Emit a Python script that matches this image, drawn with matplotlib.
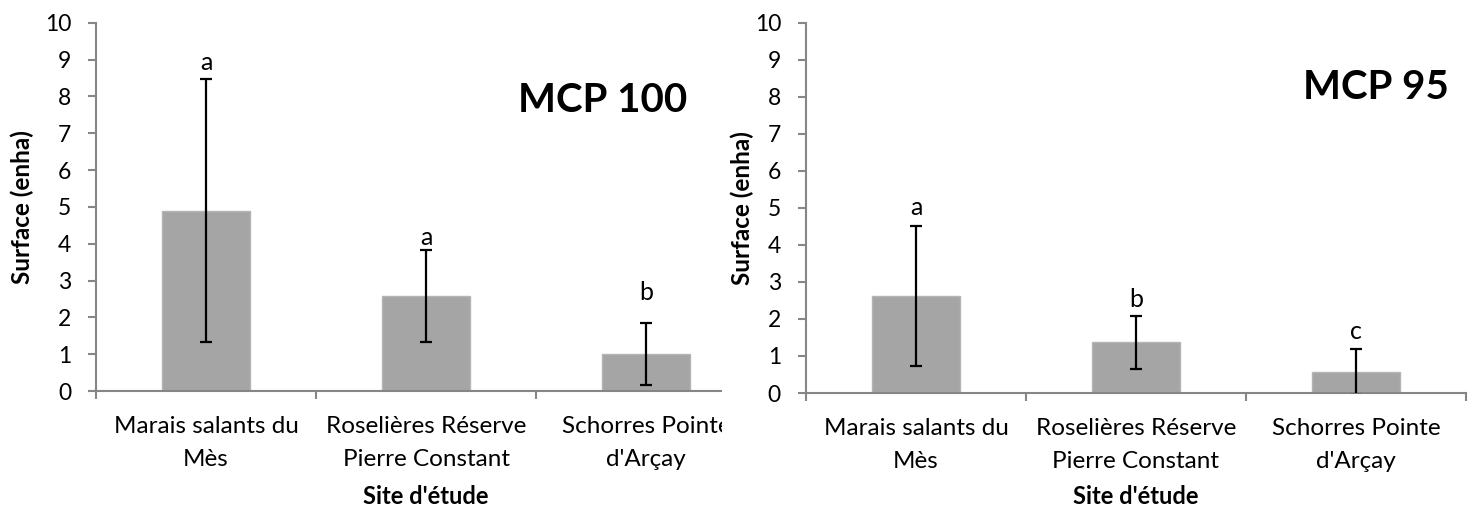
import matplotlib
matplotlib.use("Agg")
import matplotlib.pyplot as plt
from matplotlib.transforms import Bbox, TransformedBbox, blended_transform_factory

plt.rcParams['font.family'] = ['Lato', 'DejaVu Sans']

categories = ["Marais salants du\nMès", "Roselières Réserve\nPierre Constant", "Schorres Pointe\nd'Arçay"]

mcp100_mean = [4.88, 2.58, 1.00]
mcp100_upper = [8.46, 3.83, 1.84]
mcp100_lower = [1.32, 1.34, 0.16]
mcp100_letters = ["a", "a", "b"]
mcp100_letter_y = [8.72, 3.96, 2.47]

mcp95_mean = [2.63, 1.38, 0.58]
mcp95_upper = [4.52, 2.08, 1.20]
mcp95_lower = [0.72, 0.65, -0.05]
mcp95_letters = ["a", "b", "c"]
mcp95_letter_y = [4.82, 2.32, 1.46]

yticks = list(range(0, 11))

W, H = 1476, 508
fig = plt.figure(figsize=(W / 100, H / 100), dpi=100)

axis_col = "#868686"
bar_col = "#A5A5A5"


def panel(rect, means, upper, lower, letters, letter_y, title, title_xy, xmax,
          ylabel_x, xlabel_y, clip_right=None):
    ax = fig.add_axes(rect)
    x = list(range(len(means)))
    ax.bar(x, means, width=0.40, color=bar_col, edgecolor="#B5B5B5", linewidth=1, zorder=2)
    yerr = [[m - l for m, l in zip(means, lower)], [u - m for m, u in zip(means, upper)]]
    ax.errorbar(x, means, yerr=yerr, fmt="none", ecolor="black", elinewidth=1.6,
                capsize=4.5, capthick=1.6, zorder=3)
    for xi, t, ty in zip(x, letters, letter_y):
        ax.text(xi, ty, t, ha="center", va="baseline", fontsize=18, color="black")
    ax.set_yticks(yticks)
    ax.set_yticklabels([str(v) for v in yticks], fontsize=16.5)
    ax.set_xticks(x)
    labels = ax.set_xticklabels(categories, fontsize=17.5, linespacing=1.72)
    ax.set_xticks([-0.5, 0.5, 1.5, 2.5], minor=True)
    ax.set_xlim(-0.5, xmax)
    ax.set_ylim(0, 10)
    ax.tick_params(axis="x", which="major", length=0, pad=18)
    ax.tick_params(axis="x", which="minor", length=6, color=axis_col, width=1.5)
    ax.tick_params(axis="y", length=6, color=axis_col, width=1.5, pad=12)
    for s in ["top", "right"]:
        ax.spines[s].set_visible(False)
    for s in ["left", "bottom"]:
        ax.spines[s].set_color(axis_col)
        ax.spines[s].set_linewidth(1.5)
    ax.set_ylabel("Surface (enha)", fontsize=17.5, fontweight="bold")
    ax.yaxis.label.set_va("center")
    ax.yaxis.set_label_coords(ylabel_x, 0.5)
    ax.set_xlabel("Site d'étude", fontsize=17, fontweight="bold")
    ax.xaxis.label.set_va("baseline")
    ax.xaxis.set_label_coords(1, xlabel_y,
                              transform=blended_transform_factory(ax.transData, ax.transAxes))
    ax.text(title_xy[0], title_xy[1], title, transform=ax.transAxes, fontsize=29,
            fontweight="bold", ha="center", va="center")
    if clip_right is not None:
        for lab in labels:
            lab.set_clip_on(True)
            lab.set_clip_box(TransformedBbox(Bbox.from_extents(0, 0, clip_right / W, 1), fig.transFigure))
    return ax


ax1 = panel([96 / W, 1 - 391 / H, 625 / W, 368.3 / H],
            mcp100_mean, mcp100_upper, mcp100_lower, mcp100_letters, mcp100_letter_y,
            "MCP 100", (0.811, 0.79), 2.34, ylabel_x=(22 - 96) / 625, xlabel_y=(391 - 504) / 368.3,
            clip_right=722)
ax2 = panel([806 / W, 1 - 393 / H, 660 / W, 370.3 / H],
            mcp95_mean, mcp95_upper, mcp95_lower, mcp95_letters, mcp95_letter_y,
            "MCP 95", (0.863, 0.826), 2.5, ylabel_x=(742.5 - 806) / 660, xlabel_y=(393 - 504) / 370.3)

fig.savefig("out.png", dpi=100)
